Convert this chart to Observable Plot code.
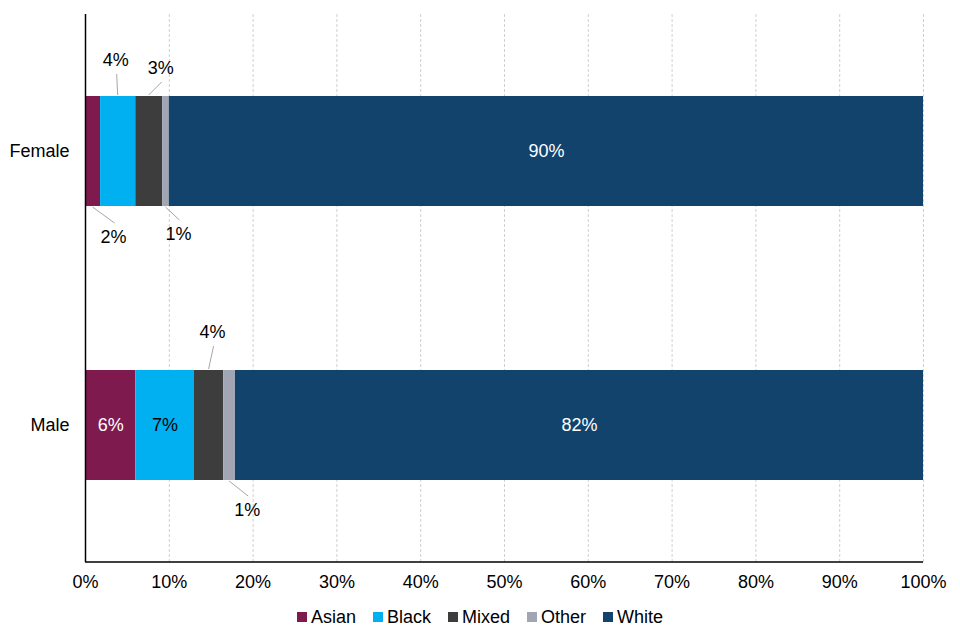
<!DOCTYPE html>
<html><head><meta charset="utf-8">
<script src="https://cdn.jsdelivr.net/npm/d3@7"></script>
<script src="https://cdn.jsdelivr.net/npm/@observablehq/plot@0.6"></script>
<style>
body{margin:0;background:#fff;font-family:"Liberation Sans",Arial,sans-serif;color:#000;}
#chart svg{display:block;}
#legend{display:flex;justify-content:center;align-items:center;gap:17px;font-size:18px;height:40px;margin-top:-3px;}
#legend .item{display:flex;align-items:center;gap:4px;}
#legend .sw{width:10px;height:10px;display:inline-block;}
</style></head>
<body><div id="chart"></div><div id="legend"></div>
<script>
// ---- data ----
const sexes = ["Female", "Male"];
const ethnicities = ["Asian", "Black", "Mixed", "Other", "White"];
const femaleValues = [1.8, 4.2, 3.2, 0.8, 90.0];
const maleValues = [6.0, 7.0, 3.5, 1.4, 82.1];
const femaleLabels = ["2%", "4%", "3%", "1%", "90%"];
const maleLabels = ["6%", "7%", "4%", "1%", "82%"];
const xTicks = [0, 10, 20, 30, 40, 50, 60, 70, 80, 90, 100];

// ---- styling ----
const colors = ["#7f1a4f", "#00b0f0", "#3d3d3d", "#a1a6b2", "#12436d"];
const FS = 18;
const placement = {
  "Female|Asian": {pos: "below", dx: 21, dy: 31},
  "Female|Black": {pos: "above", dx: -2, dy: 36},
  "Female|Mixed": {pos: "above", dx: 12, dy: 28},
  "Female|Other": {pos: "below", dx: 13, dy: 28},
  "Female|White": {pos: "inside", color: "#fff"},
  "Male|Asian": {pos: "inside", color: "#fff"},
  "Male|Black": {pos: "inside", color: "#000"},
  "Male|Mixed": {pos: "above", dx: 4, dy: 38},
  "Male|Other": {pos: "below", dx: 18, dy: 30},
  "Male|White": {pos: "inside", color: "#fff"}
};

const seriesValues = {Female: femaleValues, Male: maleValues};
const seriesLabels = {Female: femaleLabels, Male: maleLabels};
const rows = [];
for (const s of sexes) {
  let acc = 0;
  ethnicities.forEach((e, i) => {
    const v = seriesValues[s][i];
    rows.push({sex: s, eth: e, value: v, label: seriesLabels[s][i], mid: acc + v / 2, place: placement[s + "|" + e]});
    acc += v;
  });
}

const W = 960, H = 600, mL = 85, mR = 37, mT = 14, mB = 38;
const plot = Plot.plot({
  width: W, height: H,
  marginLeft: mL, marginRight: mR, marginTop: mT, marginBottom: mB,
  style: {fontFamily: "'Liberation Sans', Arial, sans-serif", fontSize: FS + "px", color: "#000", background: "#fff"},
  x: {domain: [0, 100]},
  y: {domain: sexes, paddingInner: 0.6, paddingOuter: 0.3},
  color: {domain: ethnicities, range: colors},
  marks: [
    Plot.gridX(xTicks, {stroke: "#d0d0d0", strokeOpacity: 1, strokeDasharray: "3,2"}),
    Plot.barX(rows, Plot.stackX({x: "value", y: "sex", fill: "eth", z: "eth"})),
    Plot.text(rows, Plot.stackX({x: "value", y: "sex", z: "eth",
      text: d => d.place.pos === "inside" && d.place.color === "#fff" ? d.label : null, fill: "#fff", fontSize: FS})),
    Plot.text(rows, Plot.stackX({x: "value", y: "sex", z: "eth",
      text: d => d.place.pos === "inside" && d.place.color === "#000" ? d.label : null, fill: "#000", fontSize: FS})),
    Plot.ruleX([0], {stroke: "#000", strokeWidth: 1.5}),
    Plot.axisX({ticks: xTicks, tickFormat: d => d + "%", tickSize: 0, tickPadding: 13, fontSize: FS, label: null}),
    Plot.axisY({tickSize: 0, tickPadding: 16, fontSize: FS, label: null})
  ]
});

// outside labels with leader lines, positioned through the plot's scales
const xs = plot.scale("x"), ys = plot.scale("y");
const bw = ys.bandwidth;
const svg = d3.select(plot);
const g = svg.append("g");
g.append("line")
  .attr("x1", xs.apply(0)).attr("x2", xs.apply(100))
  .attr("y1", H - mB).attr("y2", H - mB)
  .attr("stroke", "#000").attr("stroke-width", 1.5);
for (const r of rows) {
  const p = r.place;
  if (p.pos === "inside") continue;
  const top = ys.apply(r.sex);
  const edge = p.pos === "above" ? top : top + bw;
  const sign = p.pos === "above" ? -1 : 1;
  const mx = xs.apply(r.mid);
  const lx = mx + p.dx;
  const ly = edge + sign * p.dy;
  g.append("line")
    .attr("x1", mx).attr("y1", edge + sign)
    .attr("x2", lx + 1).attr("y2", edge + sign * (p.dy - 14))
    .attr("stroke", "#a6a6a6").attr("stroke-width", 1);
  g.append("text")
    .attr("x", lx).attr("y", ly)
    .attr("text-anchor", "middle").attr("dominant-baseline", "central")
    .attr("font-size", FS).attr("fill", "#000")
    .text(r.label);
}

document.getElementById("chart").appendChild(plot);

const legend = d3.select("#legend");
ethnicities.forEach((e, i) => {
  const it = legend.append("div").attr("class", "item");
  it.append("span").attr("class", "sw").style("background", colors[i]);
  it.append("span").text(e);
});
</script>
</body></html>
